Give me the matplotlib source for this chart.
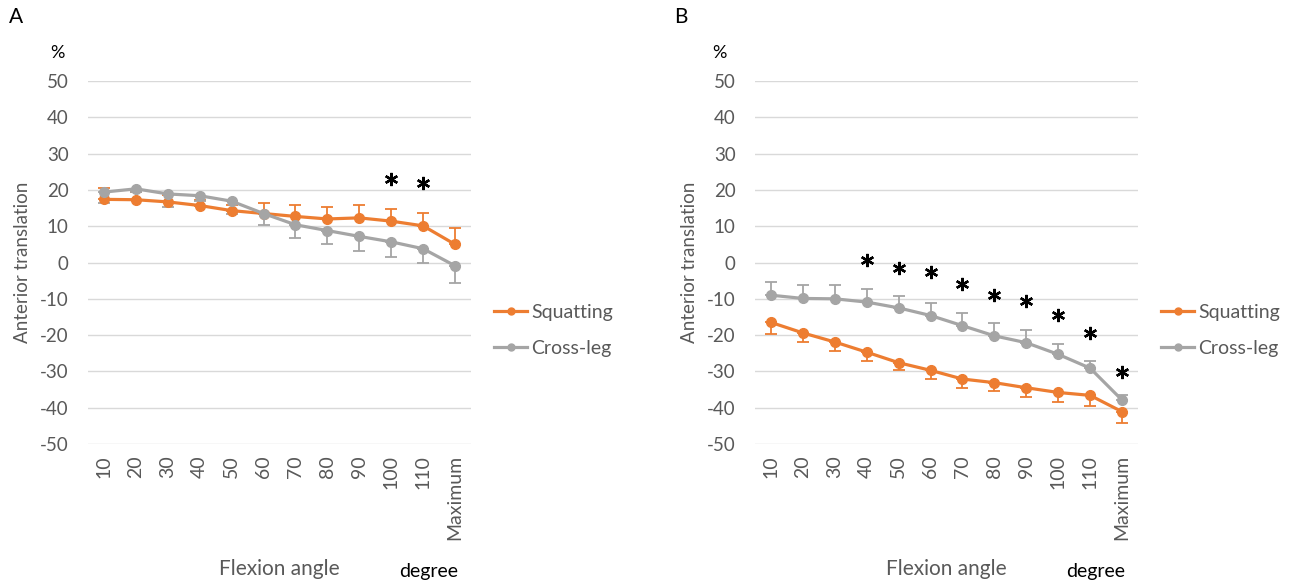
import numpy as np
import matplotlib.pyplot as plt
from matplotlib.lines import Line2D

plt.rcParams['font.family'] = ['Lato', 'DejaVu Sans']
plt.rcParams['axes.unicode_minus'] = False

categories = ['10', '20', '30', '40', '50', '60', '70', '80', '90', '100', '110', 'Maximum']

# Panel A
a_squat = [17.4, 17.3, 16.7, 15.7, 14.3, 13.5, 12.7, 12.0, 12.3, 11.4, 10.1, 5.0]
a_squat_err = [3.2, 2.0, 2.0, 1.5, 1.5, 2.8, 3.2, 3.2, 3.5, 3.3, 3.6, 4.5]
a_cross = [19.4, 20.3, 18.9, 18.4, 16.9, 13.5, 10.4, 8.8, 7.2, 5.7, 3.8, -0.9]
a_cross_err = [3.0, 1.0, 3.5, 1.5, 3.5, 3.3, 3.7, 3.7, 3.9, 4.1, 4.0, 4.7]
a_star_idx = [9, 10]
a_star_y = [23.0, 21.9]

# Panel B
b_squat = [-16.5, -19.4, -21.9, -24.7, -27.6, -29.7, -32.1, -33.1, -34.5, -35.8, -36.6, -41.1]
b_squat_err = [3.1, 2.5, 2.4, 2.4, 2.1, 2.3, 2.4, 2.3, 2.6, 2.6, 2.9, 3.1]
b_cross = [-9.0, -9.9, -10.0, -10.9, -12.5, -14.6, -17.4, -20.2, -22.1, -25.3, -29.1, -37.9]
b_cross_err = [3.5, 3.7, 3.8, 3.7, 3.4, 3.5, 3.5, 3.6, 3.4, 2.9, 2.0, 1.5]
b_star_idx = [3, 4, 5, 6, 7, 8, 9, 10, 11]
b_star_y = [0.7, -1.5, -2.6, -5.9, -9.0, -10.6, -14.5, -19.4, -30.2]

ORANGE = '#ED7D31'
GRAY = '#A5A5A5'
TXT = '#595959'

fig = plt.figure(figsize=(12.96, 5.85), dpi=100)
ax_a = fig.add_axes([0.0679, 0.241, 0.2955, 0.6205])
ax_b = fig.add_axes([0.5826, 0.241, 0.2955, 0.6205])

x = np.arange(len(categories))


def draw_panel(ax, squat, squat_err, cross, cross_err, squat_up, star_idx, star_y, pct_x):
    # error bars only on one side, away from the other line
    zero = np.zeros(len(x))
    s_err = [zero, squat_err] if squat_up else [squat_err, zero]
    c_err = [cross_err, zero] if squat_up else [zero, cross_err]
    ax.errorbar(x, squat, yerr=s_err, color=ORANGE, lw=2.3, marker='o', ms=7,
                elinewidth=1.3, capsize=4, capthick=1.3, zorder=3)
    ax.errorbar(x, cross, yerr=c_err, color=GRAY, lw=2.3, marker='o', ms=7,
                elinewidth=1.3, capsize=4, capthick=1.3, zorder=3)
    ax.plot(x[star_idx], star_y, ls='none', marker=(6, 2, 0), ms=9.5, mew=1.7,
            color='black', zorder=4)

    ax.set_xlim(-0.5, 11.5)
    ax.set_ylim(-50, 50)
    ax.set_yticks(np.arange(-50, 51, 10))
    ax.set_xticks(x)
    ax.set_xticklabels(categories, rotation=90)
    ax.grid(axis='y', color='#D9D9D9', lw=1)
    ax.set_axisbelow(True)
    for sp in ax.spines.values():
        sp.set_visible(False)
    ax.tick_params(axis='y', length=0, labelsize=13.5, labelcolor=TXT, pad=14)
    ax.tick_params(axis='x', length=0, labelsize=14, labelcolor=TXT, pad=8)
    ax.text(-0.172, 0.5, 'Anterior translation', transform=ax.transAxes, rotation=90,
            fontsize=13.5, color=TXT, ha='center', va='center')
    ax.text(pct_x, 1.077, '%', transform=ax.transAxes, fontsize=13, color='black',
            ha='center', va='center')
    ax.text(0.5, -0.344, 'Flexion angle', transform=ax.transAxes, fontsize=15,
            color=TXT, ha='center', va='center')
    ax.text(0.89, -0.35, 'degree', transform=ax.transAxes, fontsize=14,
            color='black', ha='center', va='center')
    handles = [Line2D([], [], color=ORANGE, lw=2.3, marker='o', ms=5),
               Line2D([], [], color=GRAY, lw=2.3, marker='o', ms=5)]
    leg = ax.legend(handles, ['Squatting', 'Cross-leg'], loc='center left',
                    bbox_to_anchor=(1.03, 0.3127), frameon=False, fontsize=14,
                    handlelength=1.7, handletextpad=0.2, labelspacing=0.95,
                    borderaxespad=0.2)
    for t in leg.get_texts():
        t.set_color(TXT)


draw_panel(ax_a, a_squat, a_squat_err, a_cross, a_cross_err, True, a_star_idx, a_star_y, -0.081)
draw_panel(ax_b, b_squat, b_squat_err, b_cross, b_cross_err, False, b_star_idx, b_star_y, -0.094)

fig.text(0.007, 0.96, 'A', fontsize=15)
fig.text(0.520, 0.96, 'B', fontsize=15)

fig.savefig('out.png', dpi=100)
